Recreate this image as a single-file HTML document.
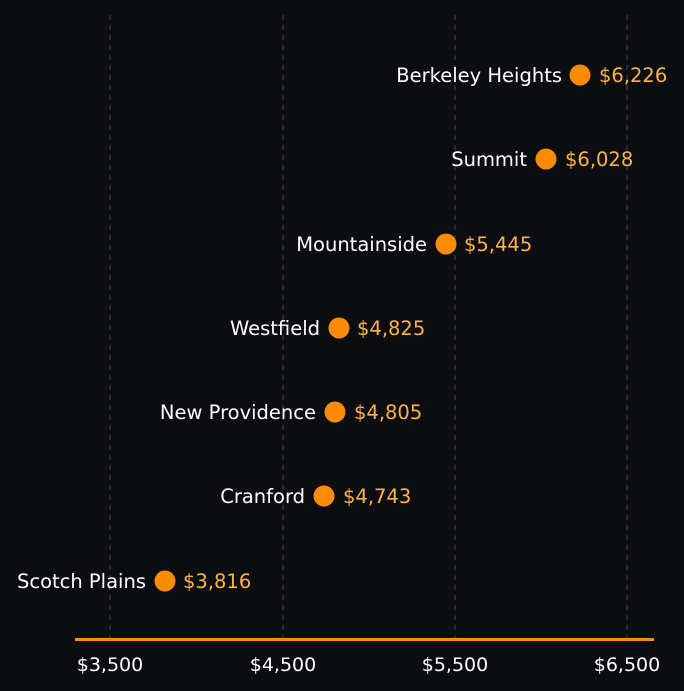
<!DOCTYPE html>
<html><head><style>
body{margin:0;background:#0c0d11;}
svg{display:block;font-family:"DejaVu Sans","Liberation Sans",sans-serif;}
</style></head><body>
<svg width="684" height="691" viewBox="0 0 684 691">
<rect width="684" height="691" fill="#0c0d11"/>
<g stroke="#3a3b40" stroke-width="1.2" stroke-dasharray="5,5">
<line x1="110" y1="15" x2="110" y2="638"/>
<line x1="283" y1="15" x2="283" y2="638"/>
<line x1="455" y1="15" x2="455" y2="638"/>
<line x1="627" y1="15" x2="627" y2="638"/>
</g>
<line x1="75" y1="639.5" x2="654" y2="639.5" stroke="#ff8c00" stroke-width="3"/>
<g fill="#ffffff" font-size="19" text-anchor="middle">
<text x="110" y="671">$3,500</text>
<text x="283" y="671">$4,500</text>
<text x="455" y="671">$5,500</text>
<text x="627" y="671">$6,500</text>
</g>
<g font-size="19.5">
<circle cx="580" cy="75" r="10.5" fill="#ff8c00"/><text x="562" y="82" fill="#fff" text-anchor="end">Berkeley Heights</text><text x="599" y="82" fill="#ffb347">$6,226</text>
<circle cx="546" cy="159" r="10.5" fill="#ff8c00"/><text x="527" y="166" fill="#fff" text-anchor="end">Summit</text><text x="565" y="166" fill="#ffb347">$6,028</text>
<circle cx="446" cy="244" r="10.5" fill="#ff8c00"/><text x="427" y="251" fill="#fff" text-anchor="end">Mountainside</text><text x="464" y="251" fill="#ffb347">$5,445</text>
<circle cx="339" cy="328" r="10.5" fill="#ff8c00"/><text x="320" y="335" fill="#fff" text-anchor="end">Westfield</text><text x="357" y="335" fill="#ffb347">$4,825</text>
<circle cx="335" cy="412" r="10.5" fill="#ff8c00"/><text x="316" y="419" fill="#fff" text-anchor="end">New Providence</text><text x="354" y="419" fill="#ffb347">$4,805</text>
<circle cx="324" cy="496" r="10.5" fill="#ff8c00"/><text x="305" y="503" fill="#fff" text-anchor="end">Cranford</text><text x="343" y="503" fill="#ffb347">$4,743</text>
<circle cx="165" cy="581" r="10.5" fill="#ff8c00"/><text x="146" y="588" fill="#fff" text-anchor="end">Scotch Plains</text><text x="183" y="588" fill="#ffb347">$3,816</text>
</g>
</svg>
</body></html>
